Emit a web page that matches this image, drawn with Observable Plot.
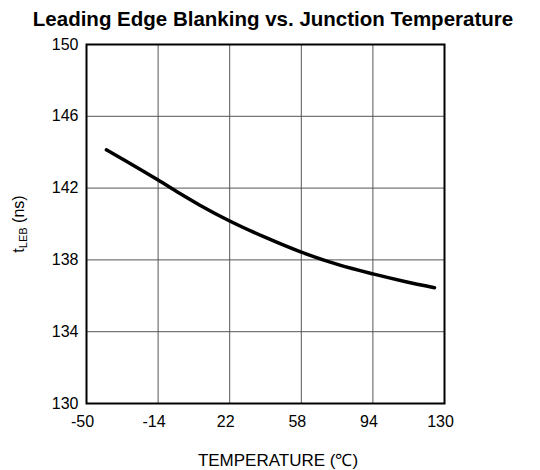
<!DOCTYPE html>
<html>
<head>
<meta charset="utf-8">
<script src="https://cdn.jsdelivr.net/npm/d3@7"></script>
<script src="https://cdn.jsdelivr.net/npm/@observablehq/plot@0.6"></script>
<style>
  html, body { margin: 0; padding: 0; background: #fff; }
  #chart { width: 540px; height: 470px; }
</style>
</head>
<body>
<div id="chart"></div>
<script>
const titleText = "Leading Edge Blanking vs. Junction Temperature";
const xLabelText = "TEMPERATURE (\u2103)";
const temps = [-40, -30, -14, -3, 7, 22, 40, 58, 77, 94, 110, 125];
const tleb = [144.13, 143.5, 142.45, 141.7, 141.05, 140.17, 139.25, 138.43, 137.72, 137.22, 136.8, 136.45];
const xTicks = [-50, -14, 22, 58, 94, 130];
const yTicks = [130, 134, 138, 142, 146, 150];

const data = temps.map((t, i) => ({t, v: tleb[i]}));
const font = "Liberation Sans, Arial, Helvetica, sans-serif";

const chart = Plot.plot({
  width: 540,
  height: 470,
  marginLeft: 86,
  marginRight: 96,
  marginTop: 44,
  marginBottom: 67,
  style: {fontFamily: font, fontSize: "16px", color: "#000", background: "#fff"},
  x: {domain: [-50, 130]},
  y: {domain: [130, 150]},
  marks: [
    Plot.gridX(xTicks, {stroke: "#555", strokeOpacity: 1, strokeWidth: 1}),
    Plot.gridY(yTicks, {stroke: "#555", strokeOpacity: 1, strokeWidth: 1}),
    Plot.frame({stroke: "#000", strokeWidth: 2}),
    Plot.axisX({ticks: xTicks, tickFormat: d => String(d), tickSize: 0, tickPadding: 12, dx: -4, label: null, fontSize: 16}),
    Plot.axisY({ticks: yTicks, tickFormat: d => String(d), tickSize: 0, tickPadding: 8, label: null, fontSize: 16}),
    Plot.line(data, {x: "t", y: "v", curve: "monotone-x", stroke: "#000", strokeWidth: 3.5, strokeLinecap: "round"})
  ]
});
document.getElementById("chart").appendChild(chart);

const svg = d3.select(chart);
svg.append("text")
  .attr("x", 273).attr("y", 26)
  .attr("text-anchor", "middle")
  .attr("font-family", font)
  .attr("font-weight", "bold")
  .attr("font-size", 20.5)
  .attr("fill", "#000")
  .text(titleText);

svg.append("text")
  .attr("x", 278).attr("y", 466)
  .attr("text-anchor", "middle")
  .attr("font-family", font)
  .attr("font-size", 17)
  .attr("fill", "#000")
  .text(xLabelText);

const yl = svg.append("text")
  .attr("transform", "translate(24,224) rotate(-90)")
  .attr("text-anchor", "middle")
  .attr("font-family", font)
  .attr("font-size", 16)
  .attr("fill", "#000");
yl.append("tspan").text("t");
yl.append("tspan").attr("font-size", 11).attr("dy", 3).text("LEB");
yl.append("tspan").attr("dy", -3).text(" (ns)");
</script>
</body>
</html>
